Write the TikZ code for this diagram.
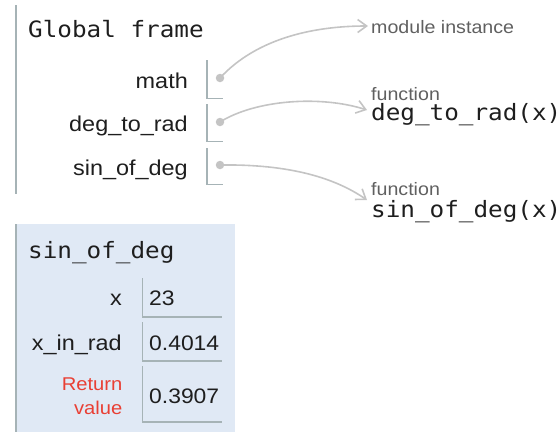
\documentclass[tikz,border=0pt]{standalone}
\usepackage{fontspec}
\setmainfont[FakeStretch=1.09]{Liberation Sans}
\newfontfamily\monof[FakeStretch=1.08]{DejaVu Sans Mono}
\usetikzlibrary{arrows.meta}
\definecolor{framebg}{HTML}{E0E9F5}
\definecolor{bordgray}{HTML}{A6B3B6}
\definecolor{arrgray}{HTML}{C4C4C4}
\definecolor{txtdark}{HTML}{1E1E1E}
\definecolor{typegray}{HTML}{606060}
\definecolor{retred}{HTML}{E93F34}
\tikzset{
  monotxt/.style={inner sep=0pt, text=txtdark, font=\monof\fontsize{22.5}{27}\selectfont},
  vartxt/.style={inner sep=0pt, text=txtdark, font=\fontsize{21.5}{26}\selectfont},
  valtxt/.style={inner sep=0pt, text=txtdark, font=\fontsize{21}{25}\selectfont},
  typetxt/.style={inner sep=0pt, text=typegray, font=\fontsize{18}{22}\selectfont},
  rettxt/.style={inner sep=0pt, text=retred, align=right, font=\fontsize{18.5}{24}\selectfont},
  valbox/.style={draw=bordgray, line width=1.5pt},
  framebar/.style={draw=bordgray, line width=2pt},
  ptrdot/.style={circle, fill=arrgray, inner sep=0pt, minimum size=8.5pt},
  ptrarr/.style={draw=arrgray, line width=1.6pt, -{Straight Barb[length=9pt,width=13pt,line width=1.6pt]}}
}
\begin{document}
\begin{tikzpicture}[x=1pt,y=-1pt]
\useasboundingbox (0,0) rectangle (560,432);

% Global frame
\draw[framebar] (16,5) -- (16,194);
\node[monotxt, anchor=base west] (gtitle) at (28,37) {Global frame};

\node[vartxt, anchor=base east] (vmath) at (188,88) {math};
\node[vartxt, anchor=base east] (vdeg) at (188,131.5) {deg\_to\_rad};
\node[vartxt, anchor=base east] (vsin) at (188,175) {sin\_of\_deg};

\draw[valbox] (207,60) -- (207,98.5) -- (222.5,98.5);
\draw[valbox] (207,104) -- (207,141.5) -- (222.5,141.5);
\draw[valbox] (207,148) -- (207,184.5) -- (222.5,184.5);

\node[ptrdot] (d1) at (220,78) {};
\node[ptrdot] (d2) at (220,122) {};
\node[ptrdot] (d3) at (220,165) {};

% heap objects
\node[typetxt, anchor=base west] (mod) at (371,33) {module instance};
\node[typetxt, anchor=base west] (f1type) at (371,100) {function};
\node[monotxt, anchor=base west] (f1name) at (371,120) {deg\_to\_rad(x)};
\node[typetxt, anchor=base west] (f2type) at (371,195.5) {function};
\node[monotxt, anchor=base west] (f2name) at (371,217) {sin\_of\_deg(x)};

\coordinate (t1) at (368,26);
\coordinate (t2) at (367,110);
\coordinate (t3) at (367,200);

\draw[ptrarr] (d1.center) .. controls (255,40) and (310,26) .. (t1);
\draw[ptrarr] (d2.center) .. controls (255,100) and (320,95) .. (t2);
\draw[ptrarr] (d3.center) .. controls (290,164) and (335,178) .. (t3);

% sin_of_deg frame
\fill[framebg] (16,224) rectangle (235,432);
\draw[framebar] (16,224) -- (16,432);
\node[monotxt, anchor=base west] (stitle) at (28,258) {sin\_of\_deg};

\node[vartxt, anchor=base east] (vx) at (122,305) {x};
\node[vartxt, anchor=base east] (vxr) at (122,350) {x\_in\_rad};
\node[rettxt, anchor=base east] (vret) at (122.5,414) {Return\\value};

\draw[valbox] (142.5,278) -- (142.5,317) -- (222,317);
\draw[valbox] (142.5,322) -- (142.5,361) -- (222,361);
\draw[valbox] (142.5,366) -- (142.5,422) -- (222,422);

\node[valtxt, anchor=base west] (vx1) at (149,305) {23};
\node[valtxt, anchor=base west] (vx2) at (149,350) {0.4014};
\node[valtxt, anchor=base west] (vx3) at (149,403) {0.3907};
\end{tikzpicture}
\end{document}
